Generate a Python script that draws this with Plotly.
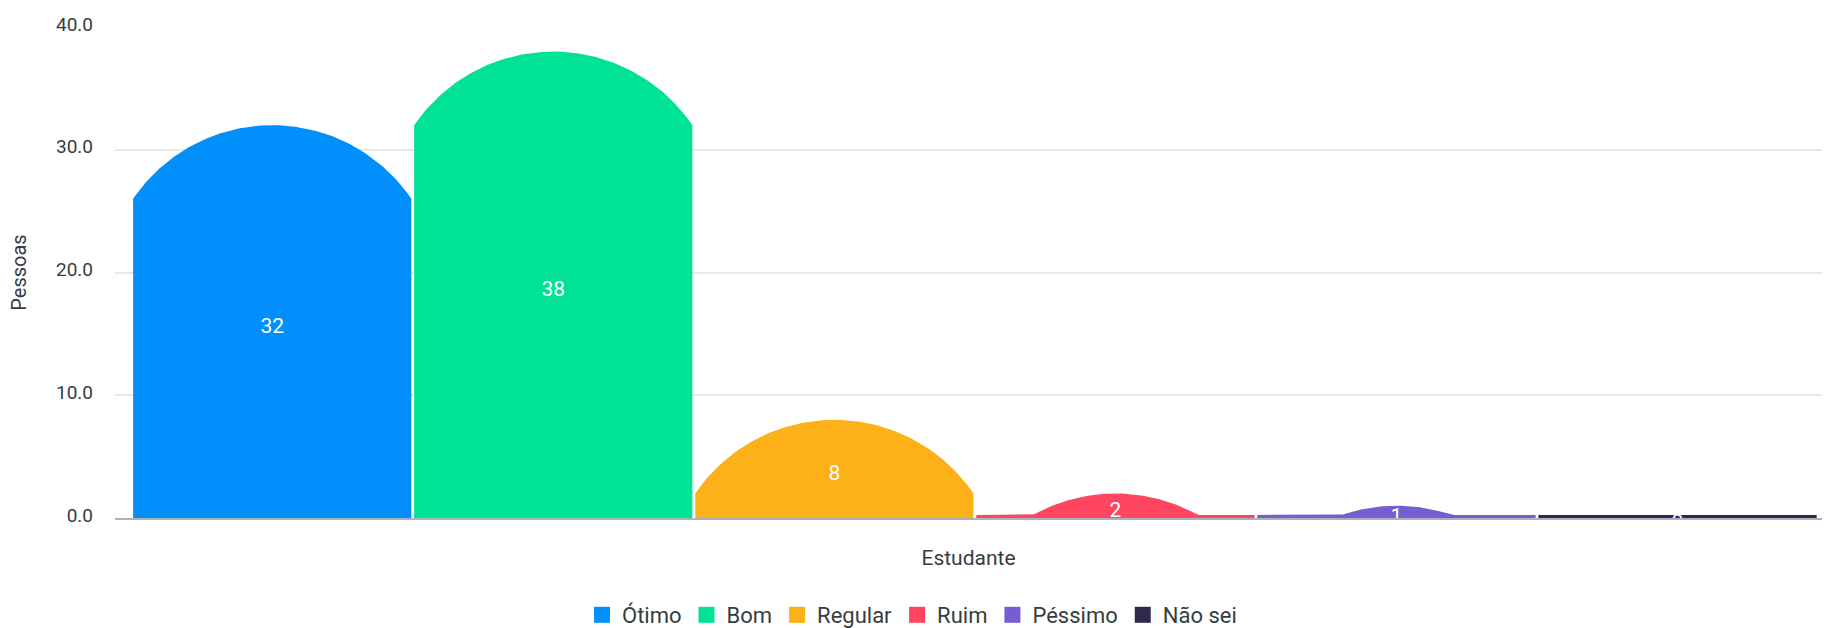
import numpy as np
import plotly.graph_objects as go

# data
categories = ["Ótimo", "Bom", "Regular", "Ruim", "Péssimo", "Não sei"]
values = [32, 38, 8, 2, 1, 0]
colors = ["#008FFB", "#00E396", "#FEB019", "#FF4560", "#775DD0", "#2E294E"]
y_ticks = [0, 10, 20, 30, 40]
x_title = "Estudante"
y_title = "Pessoas"

# layout geometry
W, H = 1824, 628
M = {"l": 115, "r": 2, "t": 27, "b": 110}
X_RANGE = [-0.5594, 5.514]
Y_RANGE = [0, 40]
HALF_W = 0.495        # half bar width (x units)
ARC_RISE = 6.0        # height of the rounded cap (y units)
STRIP = 0.25          # minimum visible bar height (y units)
LABEL_DROP = 0.5      # value labels sit slightly below the bar middle

kx = (W - M["l"] - M["r"]) / (X_RANGE[1] - X_RANGE[0])   # px per x unit
ky = (H - M["t"] - M["b"]) / (Y_RANGE[1] - Y_RANGE[0])   # px per y unit
w_px = HALF_W * kx
h_px = ARC_RISE * ky
R = (w_px ** 2 + h_px ** 2) / (2 * h_px)


def bar_outline(center, value):
    dx = np.linspace(-w_px, w_px, 121)
    drop = (R - np.sqrt(R ** 2 - dx ** 2)) / ky
    top = np.maximum(value - drop, STRIP)
    xs = [center - HALF_W] + list(center + dx / kx) + [center + HALF_W]
    ys = [0] + list(top) + [0]
    return xs, ys


fig = go.Figure()

for i, (name, v, c) in enumerate(zip(categories, values, colors)):
    xs, ys = bar_outline(i, v)
    fig.add_trace(go.Scatter(
        x=xs, y=ys, mode="lines", fill="toself", fillcolor=c,
        line={"width": 0, "color": c}, showlegend=False, hoverinfo="skip",
    ))

# value labels (on an overlaid axis nudged down a little)
fig.add_trace(go.Scatter(
    x=list(range(len(values))), y=[v / 2 for v in values],
    mode="text", text=[str(v) for v in values], yaxis="y2",
    textfont={"family": "Roboto, Arial", "size": 21, "color": "white"},
    cliponaxis=True, showlegend=False, hoverinfo="skip",
))

# legend entries
for name, c in zip(categories, colors):
    fig.add_trace(go.Scatter(
        x=[None], y=[None], mode="markers", name=name,
        marker={"symbol": "square", "size": 16, "color": c},
    ))

fig.update_layout(
    width=W, height=H,
    margin=M,
    paper_bgcolor="white",
    plot_bgcolor="white",
    font={"family": "Roboto, Arial", "color": "#373d3f"},
    showlegend=True,
    legend={
        "orientation": "h",
        "x": 0.5, "xanchor": "center", "xref": "container",
        "y": 1 - 615 / H, "yanchor": "middle", "yref": "container",
        "font": {"size": 22, "color": "#373d3f"},
        "itemclick": False,
    },
    xaxis={
        "range": X_RANGE,
        "showgrid": False, "zeroline": False,
        "showticklabels": False, "ticks": "",
        "showline": True, "linecolor": "#a9b3bb", "linewidth": 2,
        "title": {"text": x_title, "font": {"size": 21}, "standoff": 31},
        "automargin": False,
    },
    yaxis={
        "range": Y_RANGE,
        "tickvals": y_ticks, "tickformat": ".1f",
        "tickfont": {"size": 19, "color": "#373d3f"},
        "ticklabelshift": -3, "ticklabelstandoff": 21,
        "showgrid": True, "gridcolor": "#e8e8e8", "gridwidth": 1.5,
        "zeroline": False, "showline": False, "ticks": "",
        "title": {"text": y_title, "font": {"size": 20}, "standoff": 23},
        "automargin": False,
    },
    yaxis2={
        "overlaying": "y", "visible": False,
        "range": [Y_RANGE[0] + LABEL_DROP, Y_RANGE[1] + LABEL_DROP],
    },
)

# page has a default 8px body margin; drop it so the figure fills the window
fig.write_html(
    "out.html",
    config={"displayModeBar": False},
    post_script="document.body.style.margin = '0';",
)
